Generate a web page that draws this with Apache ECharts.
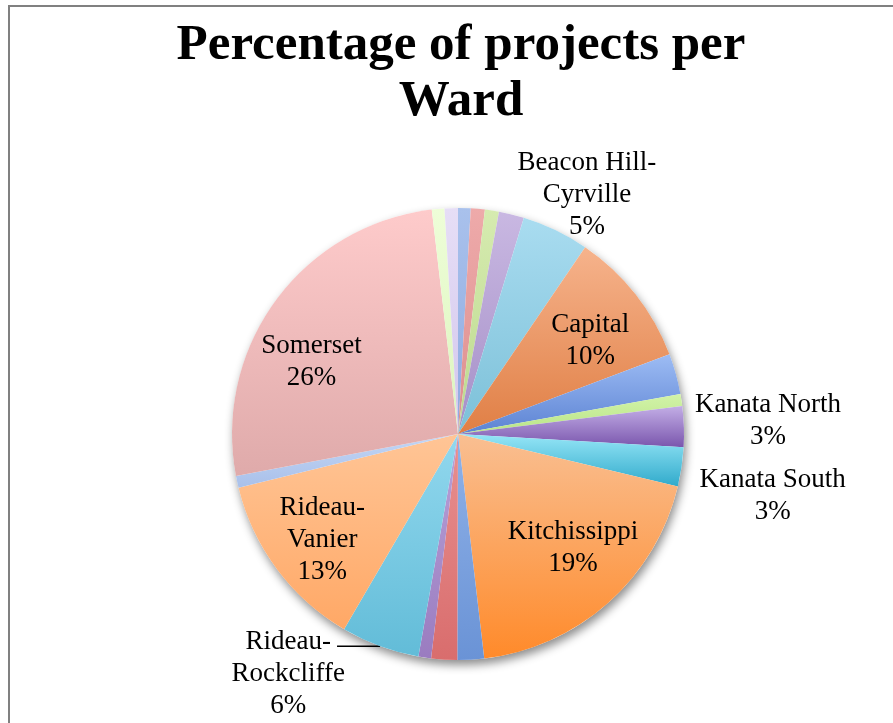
<!DOCTYPE html>
<html>
<head>
<meta charset="utf-8">
<script src="https://cdn.jsdelivr.net/npm/echarts@6/dist/echarts.min.js"></script>
<style>
html,body{margin:0;padding:0;background:#fff;}
#chart{width:893px;height:723px;}
</style>
</head>
<body>
<div id="chart"></div>
<script>
// ---- data ----
const titleText = "Percentage of projects per\nWard";
const wards = [
  "Alta Vista", "Barrhaven", "Bay", "Bell-South Nepean", "Beacon Hill-Cyrville",
  "Capital", "College", "Cumberland", "Kanata North", "Kanata South",
  "Kitchissippi", "Knoxdale-Merivale", "Orléans", "Osgoode", "Rideau-Rockcliffe",
  "Rideau-Vanier", "River", "Somerset", "Stittsville", "West Carleton-March"
];
const shares = [
  0.9, 1.0, 1.0, 1.8, 4.8,
  9.75, 2.9, 0.85, 2.9, 2.8,
  19.4, 1.9, 1.85, 0.9, 5.6,
  12.75, 0.85, 26.1, 0.9, 0.95
];
const insideLabelled = ["Capital", "Kitchissippi", "Rideau-Vanier", "Somerset"];
const outsideLabelled = ["Beacon Hill-Cyrville", "Kanata North", "Kanata South", "Rideau-Rockcliffe"];

// ---- styles ----
const sliceColors = [
  ["#a9c1ec", "#8eaae0"], ["#eeaaaa", "#dc8e8e"], ["#d6ebb0", "#bcd98e"], ["#c9b8e2", "#a58fc7"],
  ["#a9dcf0", "#7cc0d8"], ["#f6b38c", "#e07f45"], ["#9dbcf4", "#5c83d3"], ["#d2f3a8", "#b9e488"],
  ["#c3aee6", "#7a56ad"], ["#96e6f7", "#30aacb"], ["#f9bf92", "#ff8a2a"], ["#90b2e8", "#6a93d6"],
  ["#e89090", "#d96d6d"], ["#b9a2d8", "#9a7cc0"], ["#92d8ee", "#62bcd8"], ["#ffc596", "#ffa866"],
  ["#c3d6f4", "#a9c0ea"], ["#fecbcb", "#dfaaaa"], ["#eefed8", "#dcf4bd"], ["#e6def6", "#d2c6ec"]
];
const labelNudge = {
  "Beacon Hill-Cyrville": [-43, -35],
  "Kanata North": [6, -6],
  "Kanata South": [13, 29],
  "Rideau-Rockcliffe": [13, 28],
  "Capital": [2, 9],
  "Kitchissippi": [5, -10],
  "Rideau-Vanier": [-3, 7],
  "Somerset": [-13, 26]
};

const chart = echarts.init(document.getElementById('chart'), null, {renderer: 'canvas'});
const FONT = '"Liberation Serif", "Times New Roman", serif';
const center = [458, 434];
const R = 226;

function grad(c) {
  return new echarts.graphic.LinearGradient(0, 0, 0, 1, [
    {offset: 0, color: c[0]}, {offset: 1, color: c[1]}
  ]);
}
function pctLabel(p) {
  return p.name.replace('-', '-\n') + '\n' + Math.round(p.percent) + '%';
}
function nudgeLayout(p) {
  const n = labelNudge[wards[p.dataIndex]] || [0, 0];
  const r = p.labelRect;
  const out = {
    x: r.x + r.width / 2 + n[0],
    y: r.y + r.height / 2 + n[1],
    align: 'center',
    verticalAlign: 'middle'
  };
  if (p.labelLinePoints) out.labelLinePoints = p.labelLinePoints;
  return out;
}

const mainData = wards.map((w, i) => {
  const isOut = outsideLabelled.indexOf(w) >= 0;
  const isRR = w === "Rideau-Rockcliffe";
  return {
    name: w,
    value: shares[i],
    itemStyle: {color: grad(sliceColors[i])},
    label: {show: isOut},
    labelLine: {show: isRR, length: 0, length2: isRR ? 43 : 0,
      lineStyle: {color: '#000', width: 1.5}}
  };
});
const innerData = wards.map((w, i) => ({
  name: w,
  value: shares[i],
  label: {show: insideLabelled.indexOf(w) >= 0}
}));

const option = {
  backgroundColor: '#fff',
  animation: false,
  title: {
    text: titleText,
    left: 456,
    top: 13,
    textAlign: 'center',
    textStyle: {fontFamily: FONT, fontWeight: 'bold', fontSize: 51, lineHeight: 56, color: '#000'}
  },
  graphic: [{
    type: 'polyline',
    shape: {points: [[9, 723], [9, 6], [893, 6]]},
    style: {stroke: '#808080', lineWidth: 2, fill: null},
    z: 100
  }],
  series: [
    {
      type: 'pie',
      name: 'shadow',
      silent: true,
      center: center,
      radius: [0, R],
      z: 1,
      data: [{value: 1, name: 'shadow'}],
      label: {show: false},
      labelLine: {show: false},
      itemStyle: {color: '#fff', shadowBlur: 10, shadowColor: 'rgba(0,0,0,0.45)', shadowOffsetX: 2, shadowOffsetY: 5}
    },
    {
      type: 'pie',
      name: 'Wards',
      center: center,
      radius: [0, R],
      startAngle: 90,
      clockwise: true,
      avoidLabelOverlap: false,
      z: 2,
      itemStyle: {borderWidth: 0},
      emphasis: {disabled: true},
      label: {
        position: 'outside',
        formatter: pctLabel,
        fontFamily: FONT,
        fontSize: 27,
        lineHeight: 32,
        color: '#000',
        distanceToLabelLine: 5
      },
      labelLayout: nudgeLayout,
      data: mainData
    },
    {
      type: 'pie',
      name: 'inner labels',
      silent: true,
      center: center,
      radius: [R * 0.44, R],
      startAngle: 90,
      clockwise: true,
      avoidLabelOverlap: false,
      z: 3,
      itemStyle: {color: 'rgba(0,0,0,0)', borderWidth: 0},
      emphasis: {disabled: true},
      labelLine: {show: false},
      label: {
        position: 'inside',
        formatter: pctLabel,
        fontFamily: FONT,
        fontSize: 27,
        lineHeight: 32,
        color: '#000'
      },
      labelLayout: nudgeLayout,
      data: innerData
    }
  ]
};
chart.setOption(option);
</script>
</body>
</html>
